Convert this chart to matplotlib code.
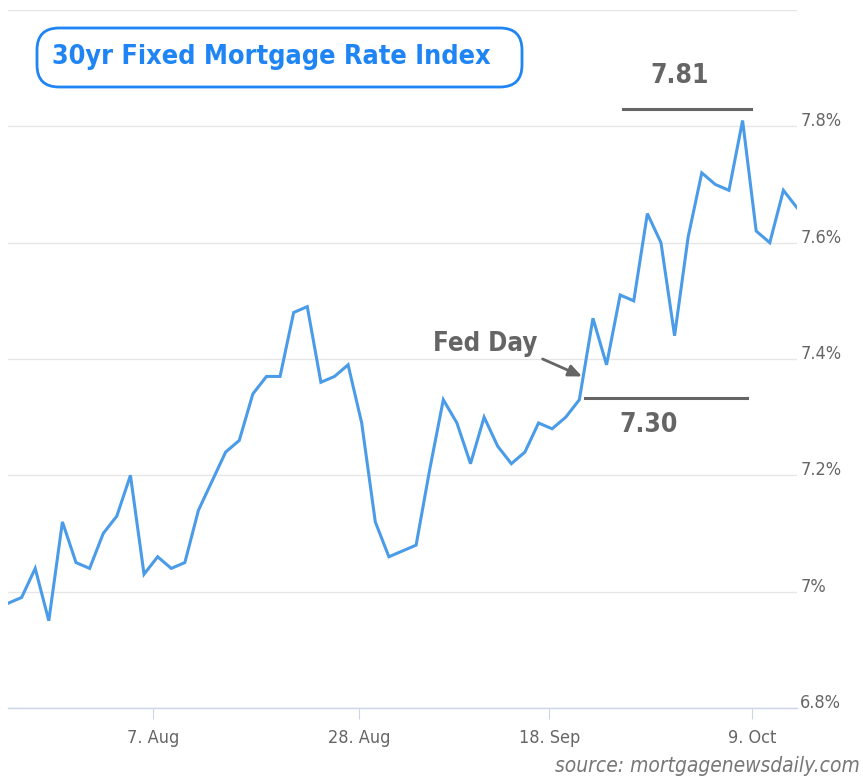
import matplotlib
matplotlib.use('Agg')
import matplotlib.pyplot as plt
from matplotlib.patches import FancyBboxPatch
from matplotlib.transforms import IdentityTransform, blended_transform_factory

# 30yr fixed rate, one value per business day (21 Jul .. 13 Oct 2023)
rate = [6.98, 6.99, 7.04, 6.95, 7.12, 7.05, 7.04, 7.10, 7.13, 7.20,
        7.03, 7.06, 7.04, 7.05, 7.14, 7.19, 7.24, 7.26, 7.34, 7.37,
        7.37, 7.48, 7.49, 7.36, 7.37, 7.39, 7.29, 7.12, 7.06, 7.07,
        7.08, 7.21, 7.33, 7.29, 7.22, 7.30, 7.25, 7.22, 7.24, 7.29,
        7.28, 7.30, 7.33, 7.47, 7.39, 7.51, 7.50, 7.65, 7.60, 7.44,
        7.61, 7.72, 7.70, 7.69, 7.81, 7.62, 7.60, 7.69, 7.66]

tick_labels = ['7. Aug', '28. Aug', '18. Sep', '9. Oct']
tick_pos    = [10.65, 25.8, 39.8, 54.7]
y_ticks     = [6.8, 7.0, 7.2, 7.4, 7.6, 7.8, 8.0]
y_labels    = ['6.8%', '7%', '7.2%', '7.4%', '7.6%', '7.8%']

title    = '30yr Fixed Mortgage Rate Index'
source   = 'source: mortgagenewsdaily.com'
peak_txt = '7.81'
fed_txt  = '7.30'

W, H = 863, 781
plt.rcParams['font.family'] = 'DejaVu Sans'
plt.rcParams['font.stretch'] = 'condensed'

fig = plt.figure(figsize=(W/100, H/100), dpi=100)
ax = fig.add_axes([8/W, 73/H, 789/W, 698/H])

x = list(range(len(rate)))
ax.plot(x, rate, color='#4a9be8', lw=2.2, solid_joinstyle='miter', zorder=3)

ax.set_xlim(0, len(rate)-1)
ax.set_ylim(6.8, 8.0)
ax.set_yticks(y_ticks)
ax.yaxis.grid(True, color='#e6e6e6', lw=1.0)
ax.tick_params(axis='y', length=0, labelleft=False)
ax.set_xticks(tick_pos)
ax.set_xticklabels(tick_labels, fontsize=13, color='#666666')
ax.tick_params(axis='x', length=8, width=0.8, color='#ccd6eb', pad=7)
for s in ['top', 'right', 'left']:
    ax.spines[s].set_visible(False)
ax.spines['bottom'].set_color('#ccd6eb')
ax.spines['bottom'].set_linewidth(1.0)
ax.set_axisbelow(True)

tr = blended_transform_factory(ax.transAxes, ax.transData)
for v, lab in zip(y_ticks, y_labels):
    ax.text(1.004, v, lab, transform=tr, ha='left', va='baseline',
            fontsize=13, color='#666666', clip_on=False)

# title box
fig.add_artist(FancyBboxPatch((37, H-87), 485, 59, transform=IdentityTransform(),
                              boxstyle='round,pad=0,rounding_size=22',
                              fc='white', ec='#1f84f4', lw=2.0))
fig.text(271/W, 1-57/H, title, ha='center', va='center', fontsize=19.4,
         fontweight='bold', color='#1f84f4')

# annotations
gray = '#656565'
ax.plot([45.2, 54.6], [7.83, 7.83], color=gray, lw=2.2, clip_on=False)
ax.text(49.4, 7.886, peak_txt, ha='center', va='center', fontsize=19,
        fontweight='bold', color=gray)
ax.plot([42.4, 54.3], [7.333, 7.333], color=gray, lw=2.2)
ax.text(47.1, 7.286, fed_txt, ha='center', va='center', fontsize=19,
        fontweight='bold', color=gray)
ax.text(31.25, 7.425, 'Fed Day', ha='left', va='center', fontsize=18.5,
        fontweight='bold', color=gray)
ax.annotate('', xy=(42.2, 7.37), xytext=(39.3, 7.40),
            arrowprops=dict(arrowstyle='-|>,head_length=0.8,head_width=0.35',
                            color=gray, lw=2.0, shrinkA=0, shrinkB=0))

fig.text(1-3/W, 1-766/H, source, ha='right', va='center', fontsize=15,
         style='italic', color='#777777')

fig.savefig('out.png', dpi=100)
